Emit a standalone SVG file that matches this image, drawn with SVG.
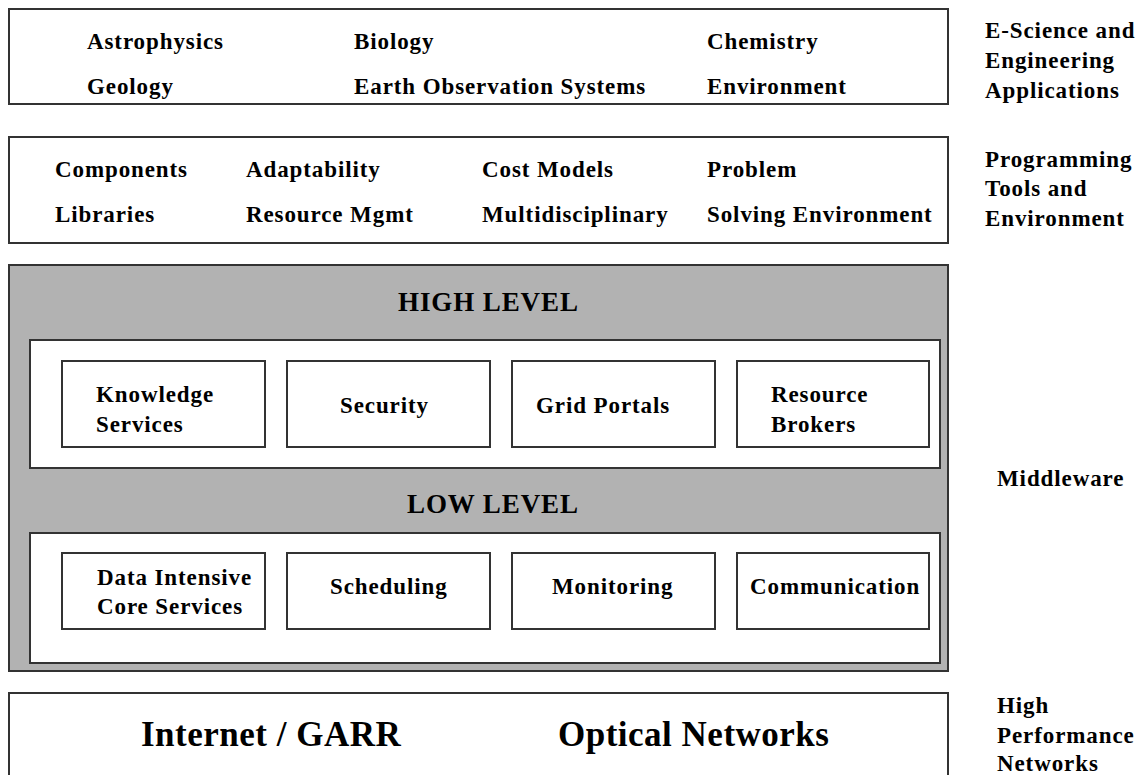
<svg xmlns="http://www.w3.org/2000/svg" width="1144" height="775" viewBox="0 0 1144 775">
<style>
.b{fill:#fff;stroke:#333;stroke-width:2}
.g{fill:#b2b2b2;stroke:#333;stroke-width:2}
text{font-family:"Liberation Serif","Times New Roman",serif;font-weight:bold;fill:#000}
.t{font-size:23px;letter-spacing:0.9px}
.h{font-size:27px;letter-spacing:0.9px}
.n{font-size:35px;letter-spacing:0.5px}
</style>
<rect width="1144" height="775" fill="#fff"/>
<g id="apps">
<rect class="b" x="9" y="9" width="939" height="95"/>
<text class="t" x="87" y="49">Astrophysics</text>
<text class="t" x="354" y="49">Biology</text>
<text class="t" x="707" y="49">Chemistry</text>
<text class="t" x="87" y="94">Geology</text>
<text class="t" x="354" y="94">Earth Observation Systems</text>
<text class="t" x="707" y="94">Environment</text>
</g>
<g id="apps-label">
<text class="t" x="985" y="38">E-Science and</text>
<text class="t" x="985" y="68">Engineering</text>
<text class="t" x="985" y="98">Applications</text>
</g>
<g id="tools">
<rect class="b" x="9" y="137" width="939" height="106"/>
<text class="t" x="55" y="177">Components</text>
<text class="t" x="246" y="177">Adaptability</text>
<text class="t" x="482" y="177">Cost Models</text>
<text class="t" x="707" y="177">Problem</text>
<text class="t" x="55" y="222">Libraries</text>
<text class="t" x="246" y="222">Resource Mgmt</text>
<text class="t" x="482" y="222">Multidisciplinary</text>
<text class="t" x="707" y="222">Solving Environment</text>
</g>
<g id="tools-label">
<text class="t" x="985" y="167">Programming</text>
<text class="t" x="985" y="196">Tools and</text>
<text class="t" x="985" y="226">Environment</text>
</g>
<g id="middleware">
<rect class="g" x="9" y="265" width="939" height="406"/>
<text class="h" x="398" y="311">HIGH LEVEL</text>
<rect class="b" x="30" y="340" width="910" height="128"/>
<text class="h" x="407" y="513">LOW LEVEL</text>
<rect class="b" x="30" y="533" width="910" height="130"/>
</g>
<g id="knowledge"><rect class="b" x="62" y="361" width="203" height="86"/><text class="t" x="96" y="402">Knowledge</text><text class="t" x="96" y="432">Services</text></g>
<g id="security"><rect class="b" x="287" y="361" width="203" height="86"/><text class="t" x="340" y="413">Security</text></g>
<g id="portals"><rect class="b" x="512" y="361" width="203" height="86"/><text class="t" x="536" y="413">Grid Portals</text></g>
<g id="brokers"><rect class="b" x="737" y="361" width="192" height="86"/><text class="t" x="771" y="402">Resource</text><text class="t" x="771" y="432">Brokers</text></g>
<g id="data"><rect class="b" x="62" y="553" width="203" height="76"/><text class="t" x="97" y="585">Data Intensive</text><text class="t" x="97" y="614">Core Services</text></g>
<g id="scheduling"><rect class="b" x="287" y="553" width="203" height="76"/><text class="t" x="330" y="594">Scheduling</text></g>
<g id="monitoring"><rect class="b" x="512" y="553" width="203" height="76"/><text class="t" x="552" y="594">Monitoring</text></g>
<g id="communication"><rect class="b" x="737" y="553" width="192" height="76"/><text class="t" x="750" y="594">Communication</text></g>
<g id="middleware-label"><text class="t" x="997" y="486">Middleware</text></g>
<g id="networks">
<rect class="b" x="9" y="693" width="939" height="90"/>
<text class="n" x="141" y="746">Internet / GARR</text>
<text class="n" x="558" y="746">Optical Networks</text>
</g>
<g id="networks-label">
<text class="t" x="997" y="713">High</text>
<text class="t" x="997" y="743">Performance</text>
<text class="t" x="997" y="771">Networks</text>
</g>
<g id="connectors"/>
</svg>
